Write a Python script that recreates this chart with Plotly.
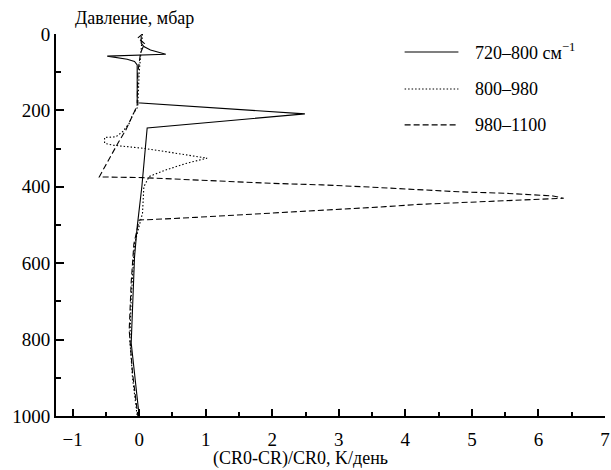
import plotly.graph_objects as go

# Pressure levels (mbar) and values for each spectral band
p_720 = [5, 24, 33, 42, 53, 58, 66, 72, 81, 180, 209, 246, 400, 505, 584, 696, 809, 1000]
x_720 = [0.03, 0.03, 0.07, 0.17, 0.40, -0.48, -0.18, -0.07, -0.03, -0.03, 2.49, 0.12, 0.04, -0.03, -0.07, -0.10, -0.12, 0.0]

p_800 = [0, 50, 100, 185, 193, 212, 234, 256, 269, 271, 286, 291, 299, 308, 321, 325, 339, 356, 373, 400, 469, 550, 690, 800, 900, 1000]
x_800 = [0.05, 0.02, 0.0, -0.02, -0.03, -0.10, -0.15, -0.25, -0.35, -0.52, -0.52, -0.40, 0.05, 0.40, 0.90, 1.02, 0.70, 0.40, 0.15, 0.07, 0.05, -0.07, -0.12, -0.14, -0.10, -0.03]

p_980 = [0, 10, 25, 50, 100, 185, 195, 251, 286, 312, 360, 374, 376, 380, 382, 386, 391, 395, 401, 407, 413, 417, 421, 424, 430,
         433, 437, 441, 446, 452, 458, 465, 470, 475, 480, 484, 487, 550, 650, 775, 887, 1000]
x_980 = [0.05, -0.02, 0.08, 0.02, -0.02, -0.03, -0.05, -0.20, -0.32, -0.40, -0.55, -0.60, 0.05, 0.50, 0.75, 1.35, 2.0, 2.75, 3.5, 4.1, 4.8, 5.5, 5.9, 6.22, 6.38,
         6.0, 5.4, 4.8, 4.2, 3.7, 3.1, 2.45, 2.0, 1.5, 0.85, 0.4, 0.0, -0.08, -0.12, -0.15, -0.10, -0.02]

series_names = ["720–800 см<sup>−1</sup>", "800–980", "980–1100"]
series_dash = ["solid", "1.5px,2px", "6px,3px"]

FONT = "Liberation Serif, Times New Roman, serif"

fig = go.Figure()
for xs, ps, dash, name in zip([x_720, x_800, x_980], [p_720, p_800, p_980], series_dash, series_names):
    fig.add_trace(go.Scatter(x=xs, y=ps, mode="lines", name=name,
                             line=dict(color="black", width=1.1, dash=dash),
                             showlegend=False))

# manual legend
leg_y = [0.953, 0.856, 0.762]
for yy, dash, name in zip(leg_y, series_dash, series_names):
    fig.add_shape(type="line", xref="paper", yref="paper", x0=0.635, x1=0.733, y0=yy, y1=yy,
                  line=dict(color="black", width=1.1, dash=dash))
    fig.add_annotation(xref="paper", yref="paper", x=0.76, y=yy, text=name, showarrow=False,
                       xanchor="left", yanchor="middle", font=dict(family=FONT, size=18, color="black"))

fig.add_annotation(xref="paper", yref="paper", x=0.031, y=1.042, text="Давление, мбар", showarrow=False,
                   xanchor="left", yanchor="middle", font=dict(family=FONT, size=18, color="black"))
fig.add_annotation(xref="paper", yref="paper", x=0.446, y=-0.11, text="(CR0-CR)/CR0, K/день", showarrow=False,
                   xanchor="center", yanchor="middle", font=dict(family=FONT, size=18, color="black"))

fig.update_xaxes(range=[-1.25, 7], tickmode="linear", tick0=-1, dtick=1,
                 ticks="inside", ticklen=7, tickwidth=1.5, tickcolor="black",
                 minor=dict(ticks="inside", ticklen=4, dtick=0.5, tick0=-1, tickcolor="black", tickwidth=1.5),
                 showline=True, linecolor="black", linewidth=1.8, showgrid=False, zeroline=False,
                 ticklabeloverflow="allow", ticklabelstandoff=5,
                 tickfont=dict(family=FONT, size=19, color="black"))
fig.update_yaxes(range=[1000, 0], tickmode="linear", tick0=0, dtick=200,
                 ticks="inside", ticklen=8, tickwidth=1.5, tickcolor="black",
                 minor=dict(ticks="inside", ticklen=5, dtick=100, tick0=0, tickcolor="black", tickwidth=1.5),
                 showline=True, linecolor="black", linewidth=1.8, showgrid=False, zeroline=False,
                 ticklabeloverflow="allow",
                 tickfont=dict(family=FONT, size=19, color="black"))

fig.update_layout(width=611, height=470, margin=dict(l=56, r=1, t=34, b=54),
                  plot_bgcolor="white", paper_bgcolor="white", showlegend=False,
                  font=dict(family=FONT, color="black"))

fig.write_html("out.html")
